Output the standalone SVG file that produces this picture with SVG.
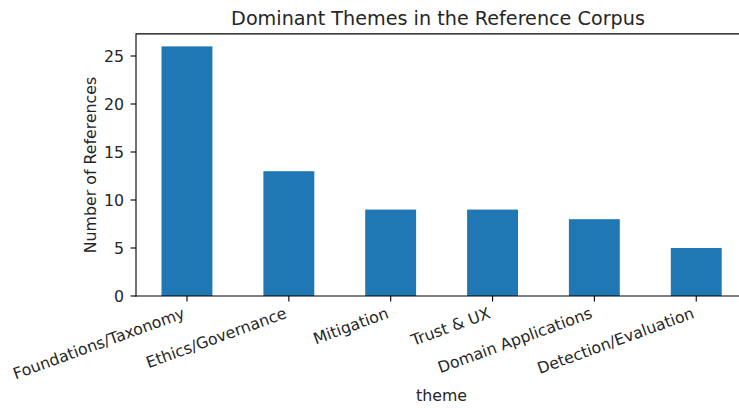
<svg xmlns="http://www.w3.org/2000/svg" width="739" height="408" viewBox="0 0 739 408">
<style>
text{font-family:"DejaVu Sans","Liberation Sans",sans-serif;fill:#262626;}
.tick{font-size:15.8px;}
.bar{fill:#1f77b4;}
.spine{stroke:#000;stroke-width:1.1;fill:none;stroke-linecap:square;}
.tk{stroke:#000;stroke-width:1.1;}
</style>
<rect width="739" height="408" fill="#fff"/>
<g id="bars">
<rect id="bar-foundations" class="bar" x="161.5" y="46.4" width="50.9" height="249.6"/>
<rect id="bar-ethics" class="bar" x="263.4" y="171.2" width="50.9" height="124.8"/>
<rect id="bar-mitigation" class="bar" x="365.2" y="209.6" width="50.9" height="86.4"/>
<rect id="bar-trust" class="bar" x="467.1" y="209.6" width="50.9" height="86.4"/>
<rect id="bar-domain" class="bar" x="568.9" y="219.2" width="50.9" height="76.8"/>
<rect id="bar-detection" class="bar" x="670.8" y="248" width="50.9" height="48"/>
</g>
<g id="axes">
<path class="spine" d="M136 296V33.9H747"/>
<path class="spine" d="M136 296H747"/>
<g class="tk">
<line x1="130.5" y1="296" x2="136" y2="296"/>
<line x1="130.5" y1="248" x2="136" y2="248"/>
<line x1="130.5" y1="200" x2="136" y2="200"/>
<line x1="130.5" y1="152" x2="136" y2="152"/>
<line x1="130.5" y1="104" x2="136" y2="104"/>
<line x1="130.5" y1="56" x2="136" y2="56"/>
<line x1="187" y1="296" x2="187" y2="301.5"/>
<line x1="288.85" y1="296" x2="288.85" y2="301.5"/>
<line x1="390.7" y1="296" x2="390.7" y2="301.5"/>
<line x1="492.55" y1="296" x2="492.55" y2="301.5"/>
<line x1="594.4" y1="296" x2="594.4" y2="301.5"/>
<line x1="696.25" y1="296" x2="696.25" y2="301.5"/>
</g>
<g class="tick" text-anchor="end">
<text x="124" y="301.8">0</text>
<text x="124" y="253.8">5</text>
<text x="124" y="205.8">10</text>
<text x="124" y="157.8">15</text>
<text x="124" y="109.8">20</text>
<text x="124" y="61.8">25</text>
</g>
<g class="tick" text-anchor="end">
<text transform="translate(185.9,317.5) rotate(-20)">Foundations/Taxonomy</text>
<text transform="translate(287.75,317.5) rotate(-20)">Ethics/Governance</text>
<text transform="translate(389.6,317.5) rotate(-20)">Mitigation</text>
<text transform="translate(491.45,317.5) rotate(-20)">Trust &amp; UX</text>
<text transform="translate(593.3,317.5) rotate(-20)">Domain Applications</text>
<text transform="translate(695.15,317.5) rotate(-20)">Detection/Evaluation</text>
</g>
<text class="tick" text-anchor="middle" x="441.5" y="401">theme</text>
<text class="tick" text-anchor="middle" transform="translate(95.5,165) rotate(-90)">Number of References</text>
<text text-anchor="middle" x="438" y="25" font-size="19.2">Dominant Themes in the Reference Corpus</text>
</g>
</svg>
